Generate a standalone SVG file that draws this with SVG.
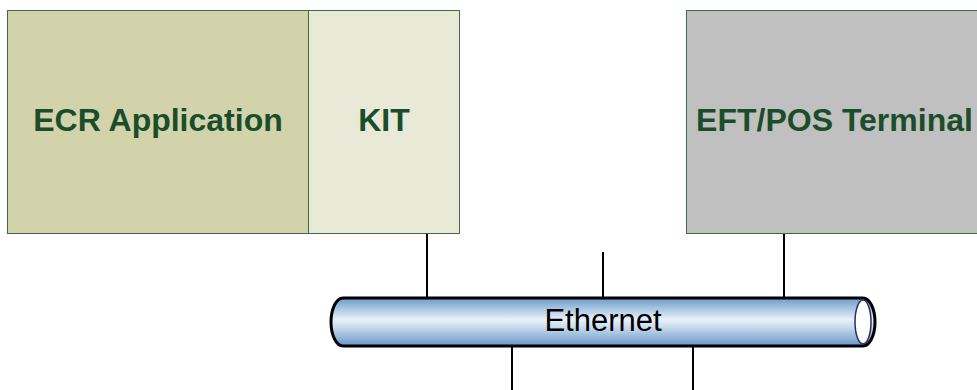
<svg xmlns="http://www.w3.org/2000/svg" width="977" height="390" viewBox="0 0 977 390">
<style>
.box{stroke:#3f6b47;stroke-width:1}
.title{font-family:"Liberation Sans",Arial,sans-serif;font-weight:bold;font-size:32px;fill:#1b4d2b;text-anchor:middle}
.wire{stroke:#000;stroke-width:2;fill:none}
</style>
<defs>
<linearGradient id="pipe" x1="0" y1="0" x2="0" y2="1">
<stop offset="0" stop-color="#6a9bc9"/>
<stop offset="0.45" stop-color="#e9f1f9"/>
<stop offset="0.6" stop-color="#c9dcee"/>
<stop offset="1" stop-color="#6596c6"/>
</linearGradient>
</defs>
<g id="connectors">
<line class="wire" x1="427" y1="233" x2="427" y2="298"/>
<line class="wire" x1="603" y1="252" x2="603" y2="298"/>
<line class="wire" x1="784" y1="233" x2="784" y2="298"/>
<line class="wire" x1="512" y1="346" x2="512" y2="390"/>
<line class="wire" x1="693" y1="346" x2="693" y2="390"/>
</g>
<g id="ecr">
<rect class="box" x="7.5" y="10.5" width="301" height="223" fill="#d3d3ab"/>
<text class="title" x="158" y="131">ECR Application</text>
</g>
<g id="kit">
<rect class="box" x="308.5" y="10.5" width="151" height="223" fill="#e9e9d7"/>
<text class="title" x="384" y="131">KIT</text>
</g>
<g id="eft">
<rect class="box" x="686.5" y="10.5" width="300" height="223" fill="#c0c0c0"/>
<text class="title" x="834.5" y="131">EFT/POS Terminal</text>
</g>
<g id="ethernet">
<path d="M343,298 L863,298 A12,24 0 0 1 863,346 L343,346 A12,24 0 0 1 343,298 Z" fill="url(#pipe)" stroke="#000" stroke-width="3"/>
<ellipse cx="863" cy="322" rx="8" ry="22" fill="#fff" stroke="#2b2b6b" stroke-width="1.5"/>
<text x="603" y="331" font-family="'Liberation Sans',Arial,sans-serif" font-size="31" fill="#000" text-anchor="middle">Ethernet</text>
</g>
</svg>
